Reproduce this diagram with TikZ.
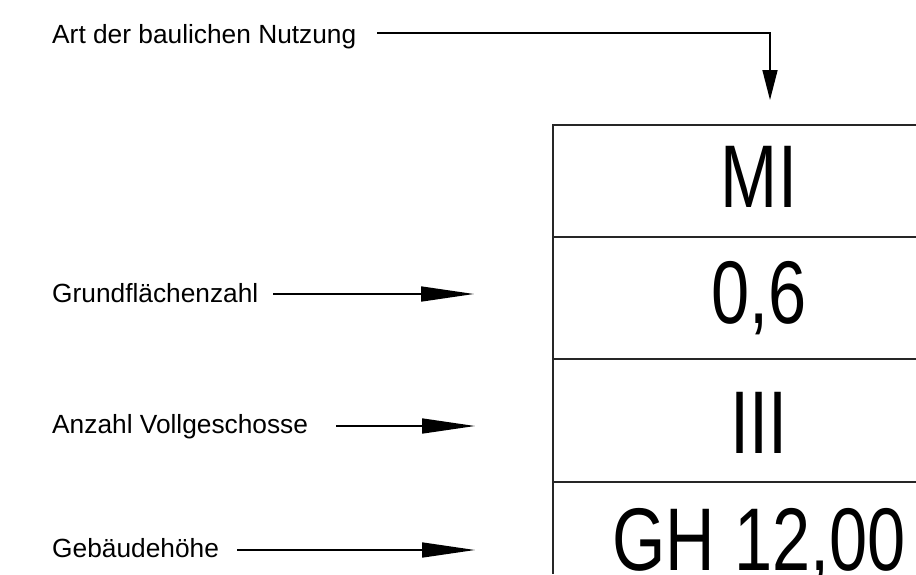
\documentclass[tikz,border=0pt]{standalone}
\usepackage{fontspec}
\setmainfont{Liberation Sans}
\newfontfamily\bigfont[FakeStretch=0.77]{Liberation Sans}
\usetikzlibrary{arrows.meta}
\begin{document}
\begin{tikzpicture}[x=1pt,y=-1pt,
  lbl/.style={anchor=base west, inner sep=0pt, font=\fontsize{26.3pt}{31pt}\selectfont},
  val/.style={anchor=base, inner sep=0pt, font=\bigfont\fontsize{89pt}{100pt}\selectfont},
  conn/.style={line width=1.6pt, -{Triangle[length=53pt,width=15pt]}},
  connv/.style={line width=1.6pt, -{Triangle[length=30pt,width=15pt]}},
  gridline/.style={line width=1.3pt, draw=black!85}]
\useasboundingbox (0,0) rectangle (916,574);
\fill[white] (0,0) rectangle (916,574);
% table
\draw[gridline] (916,125) -- (553,125) -- (553,574);
\draw[gridline] (553,237) -- (916,237);
\draw[gridline] (553,359) -- (916,359);
\draw[gridline] (553,482) -- (916,482);
% values
\node[val] (mi) at (759,207) {MI};
\node[val] (grz) at (759,323) {0,6};
\node[val] (vg) at (759,453) {III};
\node[val] (gh) at (759,570) {GH 12,00};
% labels
\node[lbl] (lart) at (52,43) {Art der baulichen Nutzung};
\node[lbl] (lgrz) at (52,302) {Grundflächenzahl};
\node[lbl] (lvg) at (52,433) {Anzahl Vollgeschosse};
\node[lbl] (lgh) at (52,557) {Gebäudehöhe};
% connector ends
\coordinate (sart) at (377,33);
\coordinate (eart) at (770,100);
\coordinate (sgrz) at (273,294);
\coordinate (egrz) at (474,294);
\coordinate (svg) at (336,426);
\coordinate (evg) at (475,426);
\coordinate (sgh) at (237,550);
\coordinate (egh) at (475,550);
% connectors
\draw[connv] (sart) -| (eart);
\draw[conn] (sgrz) -- (egrz);
\draw[conn] (svg) -- (evg);
\draw[conn] (sgh) -- (egh);
\end{tikzpicture}
\end{document}
